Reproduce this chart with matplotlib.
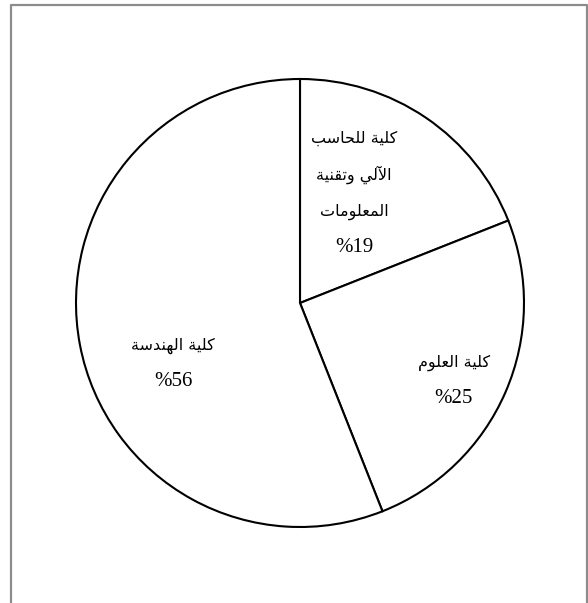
import matplotlib
matplotlib.use('Agg')
import matplotlib.pyplot as plt
import numpy as np

# Data (logical Arabic text, one entry per slice)
faculties = ['كلية للحاسب\nالآلي وتقنية\nالمعلومات', 'كلية العلوم', 'كلية الهندسة']
shares = [19, 25, 56]

# Label placement relative to each wedge: (angle offset in degrees, fraction of radius)
label_offsets = [(8, 0.545), (-3.6, 0.77), (15, 0.63)]

# matplotlib has no Arabic shaping, so pick the contextual forms by hand
# forms: isolated, final, initial, medial (None -> letter joins on the right only)
FORMS = {
    'ا': (0xFE8D, 0xFE8E, None, None),
    'آ': (0xFE81, 0xFE82, None, None),
    'ب': (0xFE8F, 0xFE90, 0xFE91, 0xFE92),
    'ة': (0xFE93, 0xFE94, None, None),
    'ت': (0xFE95, 0xFE96, 0xFE97, 0xFE98),
    'ح': (0xFEA1, 0xFEA2, 0xFEA3, 0xFEA4),
    'د': (0xFEA9, 0xFEAA, None, None),
    'س': (0xFEB1, 0xFEB2, 0xFEB3, 0xFEB4),
    'ع': (0xFEC9, 0xFECA, 0xFECB, 0xFECC),
    'ق': (0xFED5, 0xFED6, 0xFED7, 0xFED8),
    'ك': (0xFED9, 0xFEDA, 0xFEDB, 0xFEDC),
    'ل': (0xFEDD, 0xFEDE, 0xFEDF, 0xFEE0),
    'م': (0xFEE1, 0xFEE2, 0xFEE3, 0xFEE4),
    'ن': (0xFEE5, 0xFEE6, 0xFEE7, 0xFEE8),
    'ه': (0xFEE9, 0xFEEA, 0xFEEB, 0xFEEC),
    'و': (0xFEED, 0xFEEE, None, None),
    'ي': (0xFEF1, 0xFEF2, 0xFEF3, 0xFEF4),
}
LAM_ALEF = {'ا': (0xFEFB, 0xFEFC), 'آ': (0xFEF5, 0xFEF6)}


def shape(line):
    # merge lam + alef into one ligature token
    tokens = []
    i = 0
    while i < len(line):
        c = line[i]
        if c == 'ل' and i + 1 < len(line) and line[i + 1] in LAM_ALEF:
            tokens.append(('lig', line[i + 1]))
            i += 2
        else:
            tokens.append(('ch', c))
            i += 1

    def is_arabic(t):
        return t is not None and (t[0] == 'lig' or t[1] in FORMS)

    def dual(t):
        return t is not None and t[0] == 'ch' and t[1] in FORMS and FORMS[t[1]][2] is not None

    out = []
    for k, t in enumerate(tokens):
        prev = tokens[k - 1] if k > 0 else None
        nxt = tokens[k + 1] if k + 1 < len(tokens) else None
        jp = dual(prev)
        if t[0] == 'lig':
            iso, fin = LAM_ALEF[t[1]]
            out.append(chr(fin if jp else iso))
        elif t[1] in FORMS:
            iso, fin, ini, med = FORMS[t[1]]
            jn = dual(t) and is_arabic(nxt)
            if jp and jn:
                code = med
            elif jp:
                code = fin
            elif jn:
                code = ini
            else:
                code = iso
            out.append(chr(code))
        else:
            out.append(t[1])
    # visual order, right to left
    return ''.join(reversed(out))


W, H = 588, 603
fig = plt.figure(figsize=(W / 100, H / 100), dpi=100)
ax = fig.add_axes([0, 0, 1, 1])

cx, cy, r = 300, H - 303, 224
wedges, _ = ax.pie(shares, startangle=90, counterclock=False,
                   colors=['white'] * len(shares), center=(cx, cy), radius=r,
                   wedgeprops=dict(edgecolor='black', linewidth=1.5))

step = 37  # line pitch of the labels, in pixels
for w, name, v, (da, dist) in zip(wedges, faculties, shares, label_offsets):
    ang = np.deg2rad((w.theta1 + w.theta2) / 2 + da)
    x0 = cx + dist * r * np.cos(ang)
    y0 = cy + dist * r * np.sin(ang)
    lines = [shape(l) for l in name.split('\n')]
    n = len(lines) + 1
    for k, l in enumerate(lines):
        ax.text(x0, y0 + ((n - 1) / 2 - k) * step, l, ha='center', va='center',
                fontsize=11.5, family='DejaVu Sans')
    ax.text(x0, y0 - (n - 1) / 2 * step + 1, f'%{v}', ha='center', va='center',
            fontsize=15, family='Liberation Serif')

# Grey frame (bottom edge is cut off in the original)
ax.plot([11, 11, 586.5, 586.5], [0, H - 5, H - 5, 0], color='#8c8c8c',
        lw=1.6, clip_on=False)

ax.set_xlim(0, W)
ax.set_ylim(0, H)
ax.set_aspect('equal')
ax.axis('off')

fig.savefig('out.png', dpi=100, facecolor='white')
